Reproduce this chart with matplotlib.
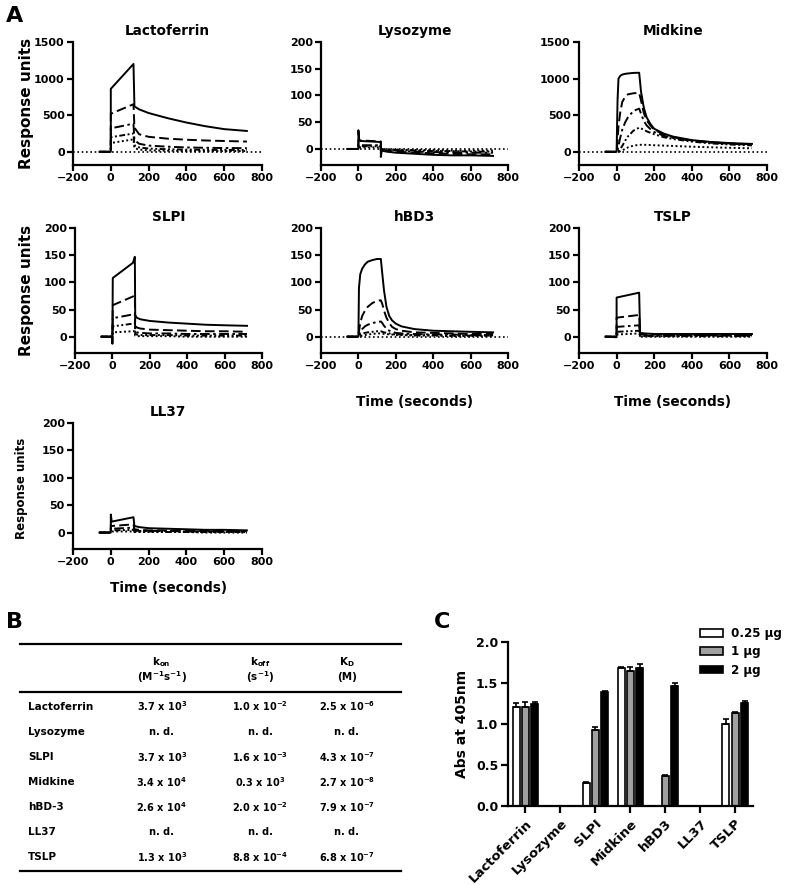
import matplotlib
matplotlib.use('Agg')
import matplotlib.pyplot as plt
from matplotlib.lines import Line2D
import numpy as np

plt.rcParams['font.family'] = ['DejaVu Sans']
plt.rcParams['font.weight'] = 'bold'
plt.rcParams['mathtext.fontset'] = 'custom'
plt.rcParams['mathtext.bf'] = 'DejaVu Sans:bold'
plt.rcParams['mathtext.rm'] = 'DejaVu Sans:bold'
plt.rcParams['mathtext.it'] = 'DejaVu Sans:bold'
plt.rcParams['mathtext.default'] = 'bf'

# ---------------- Panel A data (time in s, response units) ----------------
LACTO_T = [-60, 0, 0, 120, 125, 150, 200, 300, 400, 500, 600, 720]
LACTO_RU = [
    [0, 0, 860, 1200, 620, 580, 530, 460, 400, 350, 310, 285],
    [0, 0, 520, 650, 330, 240, 205, 180, 165, 155, 148, 140],
    [0, 0, 320, 385, 160, 110, 85, 70, 60, 55, 52, 50],
    [0, 0, 200, 250, 90, 60, 45, 35, 30, 28, 26, 25],
    [0, 0, 120, 170, 50, 30, 20, 15, 12, 11, 10, 10],
]

LYSO_T = [-60, 0, 0, 5, 120, 120, 125, 150, 200, 300, 400, 500, 600, 720]
LYSO_RU = [
    [0, 0, 35, 15, 13, -15, -3, -5, -7, -9, -11, -12, -12, -13],
    [0, 0, 17, 16, 14, -5, -2, -3, -5, -7, -8, -9, -10, -10],
    [0, 0, 8, 7, 7, -3, -1, -2, -3, -5, -6, -6, -7, -7],
    [0, 0, 5, 5, 5, -2, -1, -1, -2, -3, -4, -4, -5, -5],
    [0, 0, 3, 3, 3, -1, 0, -1, -1, -2, -2, -3, -3, -3],
]

MIDK_T = [-60, 0, 5, 10, 20, 30, 45, 60, 90, 120, 130, 145, 160, 180, 200, 250, 300, 400, 500, 600, 720]
MIDK_RU = [
    [0, 0, 700, 1000, 1040, 1055, 1065, 1070, 1078, 1080, 820, 600, 470, 380, 315, 250, 208, 160, 135, 120, 108],
    [0, 0, 150, 350, 550, 680, 750, 785, 800, 805, 700, 530, 430, 360, 300, 240, 200, 155, 130, 115, 102],
    [0, 0, 20, 80, 200, 300, 400, 470, 560, 590, 520, 420, 360, 310, 270, 220, 190, 150, 125, 110, 98],
    [0, 0, 0, 10, 40, 80, 150, 210, 290, 330, 320, 300, 280, 260, 240, 200, 175, 140, 115, 100, 88],
    [0, 0, 0, 2, 8, 20, 40, 60, 85, 95, 96, 96, 95, 93, 90, 85, 80, 70, 62, 55, 48],
]

SLPI_T = [-60, 0, 0, 2, 110, 120, 122, 130, 150, 200, 300, 400, 500, 600, 720]
SLPI_RU = [
    [0, 0, -13, 108, 136, 147, 40, 35, 32, 29, 26, 24, 22, 21, 20],
    [0, 0, 0, 58, 74, 76, 20, 17, 15, 13, 12, 11, 10, 10, 9],
    [0, 0, 0, 34, 41, 42, 10, 8, 7, 6, 6, 5, 5, 5, 5],
    [0, 0, 0, 19, 24, 25, 5, 4, 3, 3, 3, 2, 2, 2, 2],
    [0, 0, 0, 8, 10, 10, 2, 1, 1, 1, 1, 0, 0, 0, 0],
]

HBD3_T = [-60, 0, 3, 10, 20, 35, 50, 75, 100, 120, 128, 137, 150, 165, 180, 200, 230, 300, 400, 500, 600, 720]
HBD3_RU = [
    [0, 0, 90, 115, 125, 133, 138, 141, 143, 143, 115, 85, 55, 38, 30, 24, 19, 14, 11, 10, 9, 8],
    [0, 0, 10, 25, 38, 48, 55, 62, 66, 67, 60, 48, 35, 25, 18, 14, 11, 8, 7, 6, 5, 5],
    [0, 0, 2, 8, 14, 19, 22, 25, 27, 28, 25, 20, 15, 11, 9, 7, 6, 5, 4, 4, 3, 3],
    [0, 0, 1, 3, 5, 7, 8, 9, 10, 10, 9, 8, 7, 6, 5, 4, 4, 3, 3, 2, 2, 2],
    [0, 0, 0, 1, 2, 3, 4, 5, 6, 6, 6, 5, 5, 4, 4, 3, 3, 2, 2, 1, 1, 1],
]

TSLP_T = [-60, 0, 0, 120, 125, 150, 200, 300, 400, 500, 600, 720]
TSLP_RU = [
    [0, -1, 72, 81, 7, 6, 5, 5, 5, 5, 5, 5],
    [0, 0, 35, 40, 4, 4, 4, 3, 3, 3, 3, 3],
    [0, 0, 18, 21, 2, 2, 2, 2, 2, 2, 2, 2],
    [0, 0, 9, 11, 1, 1, 1, 1, 1, 1, 1, 1],
    [0, 0, 4, 6, 0, 0, 0, 0, 0, 0, 0, 0],
]

LL37_T = [-60, 0, 0, 5, 120, 125, 150, 200, 300, 400, 500, 600, 720]
LL37_RU = [
    [0, 0, 33, 20, 28, 12, 10, 8, 7, 6, 5, 5, 4],
    [0, 0, 14, 12, 15, 6, 5, 4, 4, 3, 3, 3, 3],
    [0, 0, 8, 7, 9, 4, 3, 3, 3, 2, 2, 2, 2],
    [0, 0, 4, 4, 5, 2, 2, 2, 1, 1, 1, 1, 1],
    [0, 0, 2, 2, 2, 1, 1, 1, 1, 1, 0, 0, 0],
]

X_TICKS = [-200, 0, 200, 400, 600, 800]
Y_TICKS_BIG = [0, 500, 1000, 1500]
Y_TICKS_SMALL = [0, 50, 100, 150, 200]

# ---------------- Panel B data ----------------
TABLE_ROWS = ['Lactoferrin', 'Lysozyme', 'SLPI', 'Midkine', 'hBD-3', 'LL37', 'TSLP']
TABLE_KON = ['3.7 x 10$^{3}$', 'n. d.', '3.7 x 10$^{3}$', '3.4 x 10$^{4}$', '2.6 x 10$^{4}$', 'n. d.', '1.3 x 10$^{3}$']
TABLE_KOFF = ['1.0 x 10$^{-2}$', 'n. d.', '1.6 x 10$^{-3}$', '0.3 x 10$^{3}$', '2.0 x 10$^{-2}$', 'n. d.', '8.8 x 10$^{-4}$']
TABLE_KD = ['2.5 x 10$^{-6}$', 'n. d.', '4.3 x 10$^{-7}$', '2.7 x 10$^{-8}$', '7.9 x 10$^{-7}$', 'n. d.', '6.8 x 10$^{-7}$']
TABLE_HEAD1 = ['k$_{on}$', 'k$_{off}$', 'K$_{D}$']
TABLE_HEAD2 = ['(M$^{-1}$s$^{-1}$)', '(s$^{-1}$)', '(M)']

# ---------------- Panel C data ----------------
C_CATS = ['Lactoferrin', 'Lysozyme', 'SLPI', 'Midkine', 'hBD3', 'LL37', 'TSLP']
C_SERIES = ['0.25 \u03bcg', '1 \u03bcg', '2 \u03bcg']
C_025 = [1.21, 0.0, 0.28, 1.69, 0.0, 0.0, 1.00]
C_025_ERR = [0.05, 0.0, 0.01, 0.01, 0.0, 0.0, 0.06]
C_1 = [1.21, 0.0, 0.93, 1.65, 0.36, 0.0, 1.14]
C_1_ERR = [0.06, 0.0, 0.03, 0.05, 0.02, 0.0, 0.01]
C_2 = [1.25, 0.0, 1.39, 1.69, 1.47, 0.0, 1.26]
C_2_ERR = [0.02, 0.0, 0.01, 0.04, 0.03, 0.0, 0.02]

# ---------------- layout helpers ----------------
W, H = 789, 885
fig = plt.figure(figsize=(W / 100, H / 100), dpi=100)


def rect(l, t, r, b):
    return [l / W, 1 - b / H, (r - l) / W, (b - t) / H]


def fx(px):
    return px / W


def fy(py):
    return 1 - py / H


STYLES = ['-', (0, (5, 2.2)), (0, (5, 1.8, 1.3, 1.8)), (0, (3, 1.3, 1, 1.3, 1, 1.3)), (0, (1, 1.3))]
SPINE_LW = 1.6

panels = [
    ('Lactoferrin', LACTO_T, LACTO_RU, (-180, 1500), Y_TICKS_BIG, (73, 42, 262, 165), True),
    ('Lysozyme', LYSO_T, LYSO_RU, (-30, 200), Y_TICKS_SMALL, (321, 42, 508, 165), True),
    ('Midkine', MIDK_T, MIDK_RU, (-180, 1500), Y_TICKS_BIG, (579, 42, 767, 165), True),
    ('SLPI', SLPI_T, SLPI_RU, (-30, 200), Y_TICKS_SMALL, (75, 228, 262, 353), False),
    ('hBD3', HBD3_T, HBD3_RU, (-30, 200), Y_TICKS_SMALL, (321, 228, 508, 353), True),
    ('TSLP', TSLP_T, TSLP_RU, (-30, 200), Y_TICKS_SMALL, (579, 228, 767, 353), False),
    ('LL37', LL37_T, LL37_RU, (-30, 200), Y_TICKS_SMALL, (73, 423, 262, 549), False),
]

for title, T, RU, ylim, yt, pos, zero in panels:
    ax = fig.add_axes(rect(*pos))
    if zero:
        ax.axhline(0, color='black', lw=1.2, ls=(0, (1, 1.6)), zorder=1)
    for vals, ls in zip(RU, STYLES):
        ax.plot(T, vals, color='black', lw=1.4, ls=ls, zorder=2)
    ax.set_xlim(-200, 800)
    ax.set_ylim(*ylim)
    ax.set_xticks(X_TICKS)
    ax.set_yticks(yt)
    for s in ['top', 'right']:
        ax.spines[s].set_visible(False)
    for s in ['left', 'bottom']:
        ax.spines[s].set_linewidth(SPINE_LW)
    ax.tick_params(width=SPINE_LW, length=4, labelsize=8, pad=2)
    for lab in ax.get_xticklabels() + ax.get_yticklabels():
        lab.set_fontweight('bold')
    ax.set_title(title, fontsize=9.8, fontweight='bold', pad=5)

# axis labels panel A
fig.text(fx(27), fy(103), 'Response units', rotation=90, ha='center', va='center', fontsize=11, fontweight='bold')
fig.text(fx(27), fy(290), 'Response units', rotation=90, ha='center', va='center', fontsize=11, fontweight='bold')
fig.text(fx(22), fy(488), 'Response units', rotation=90, ha='center', va='center', fontsize=8.5, fontweight='bold')
fig.text(fx(414), fy(402), 'Time (seconds)', ha='center', va='center', fontsize=9.8, fontweight='bold')
fig.text(fx(673), fy(402), 'Time (seconds)', ha='center', va='center', fontsize=9.8, fontweight='bold')
fig.text(fx(168), fy(588), 'Time (seconds)', ha='center', va='center', fontsize=9.8, fontweight='bold')

# panel letters
fig.text(fx(15), fy(16), 'A', ha='center', va='center', fontsize=16, fontweight='bold')
fig.text(fx(14), fy(622), 'B', ha='center', va='center', fontsize=16, fontweight='bold')
fig.text(fx(442), fy(622), 'C', ha='center', va='center', fontsize=16, fontweight='bold')

# ---------------- Panel B table ----------------
for yline in (644, 691.5, 871):
    fig.add_artist(Line2D([fx(20), fx(401)], [fy(yline), fy(yline)], color='black', lw=1.6,
                          transform=fig.transFigure))
col_x = [161.7, 260, 346.7]
for cx, h1, h2 in zip(col_x, TABLE_HEAD1, TABLE_HEAD2):
    fig.text(fx(cx), fy(662), h1, ha='center', va='center', fontsize=7.5, fontweight='bold')
    fig.text(fx(cx), fy(677), h2, ha='center', va='center', fontsize=7.5, fontweight='bold')
row_y0 = 706.5
row_dy = 25.1
for i, name in enumerate(TABLE_ROWS):
    yy = row_y0 + i * row_dy
    fig.text(fx(28), fy(yy), name, ha='left', va='center', fontsize=7.5, fontweight='bold')
    for cx, col in zip(col_x, (TABLE_KON, TABLE_KOFF, TABLE_KD)):
        fig.text(fx(cx), fy(yy), col[i], ha='center', va='center', fontsize=7, fontweight='bold')

# ---------------- Panel C bars ----------------
axc = fig.add_axes(rect(508, 642.3, 752.7, 805.7))
xc = np.arange(len(C_CATS))
offsets = [-0.267, 0.0, 0.267]
colors = ['white', '#a0a0a0', 'black']
bw = 0.2
for off, vals, errs, col, lab in zip(offsets, (C_025, C_1, C_2), (C_025_ERR, C_1_ERR, C_2_ERR), colors, C_SERIES):
    axc.bar(xc + off, vals, width=bw, color=col, edgecolor='black', linewidth=1.2, label=lab, zorder=2)
    v = np.array(vals)
    e = np.array(errs)
    m = e > 0
    axc.errorbar((xc + off)[m], v[m], yerr=[np.zeros(m.sum()), e[m]], fmt='none', ecolor='black',
                 elinewidth=1.2, capsize=2.2, capthick=1.2, zorder=3)
axc.set_xlim(-0.5, len(C_CATS) - 0.5)
axc.set_ylim(0, 2.0)
axc.set_yticks([0.0, 0.5, 1.0, 1.5, 2.0])
axc.set_yticklabels(['%.1f' % v for v in [0.0, 0.5, 1.0, 1.5, 2.0]])
axc.set_xticks(xc)
axc.set_xticklabels(C_CATS, rotation=45, ha='right', rotation_mode='anchor')
for s in ['top', 'right']:
    axc.spines[s].set_visible(False)
for s in ['left', 'bottom']:
    axc.spines[s].set_linewidth(SPINE_LW)
axc.tick_params(width=SPINE_LW, length=5, labelsize=9, pad=2)
axc.tick_params(axis='x', pad=3, labelsize=9.5)
for lab in axc.get_xticklabels() + axc.get_yticklabels():
    lab.set_fontweight('bold')
axc.set_ylabel('Abs at 405nm', fontsize=10, fontweight='bold', labelpad=5)
leg = axc.legend(loc='upper left', bbox_to_anchor=(fx(700), fy(627)), bbox_transform=fig.transFigure,
                 frameon=False, fontsize=8.6, handlelength=1.9, handleheight=0.6, labelspacing=0.45,
                 handletextpad=0.7, borderpad=0, borderaxespad=0)
for t in leg.get_texts():
    t.set_fontweight('bold')

fig.savefig('out.png', dpi=100)
